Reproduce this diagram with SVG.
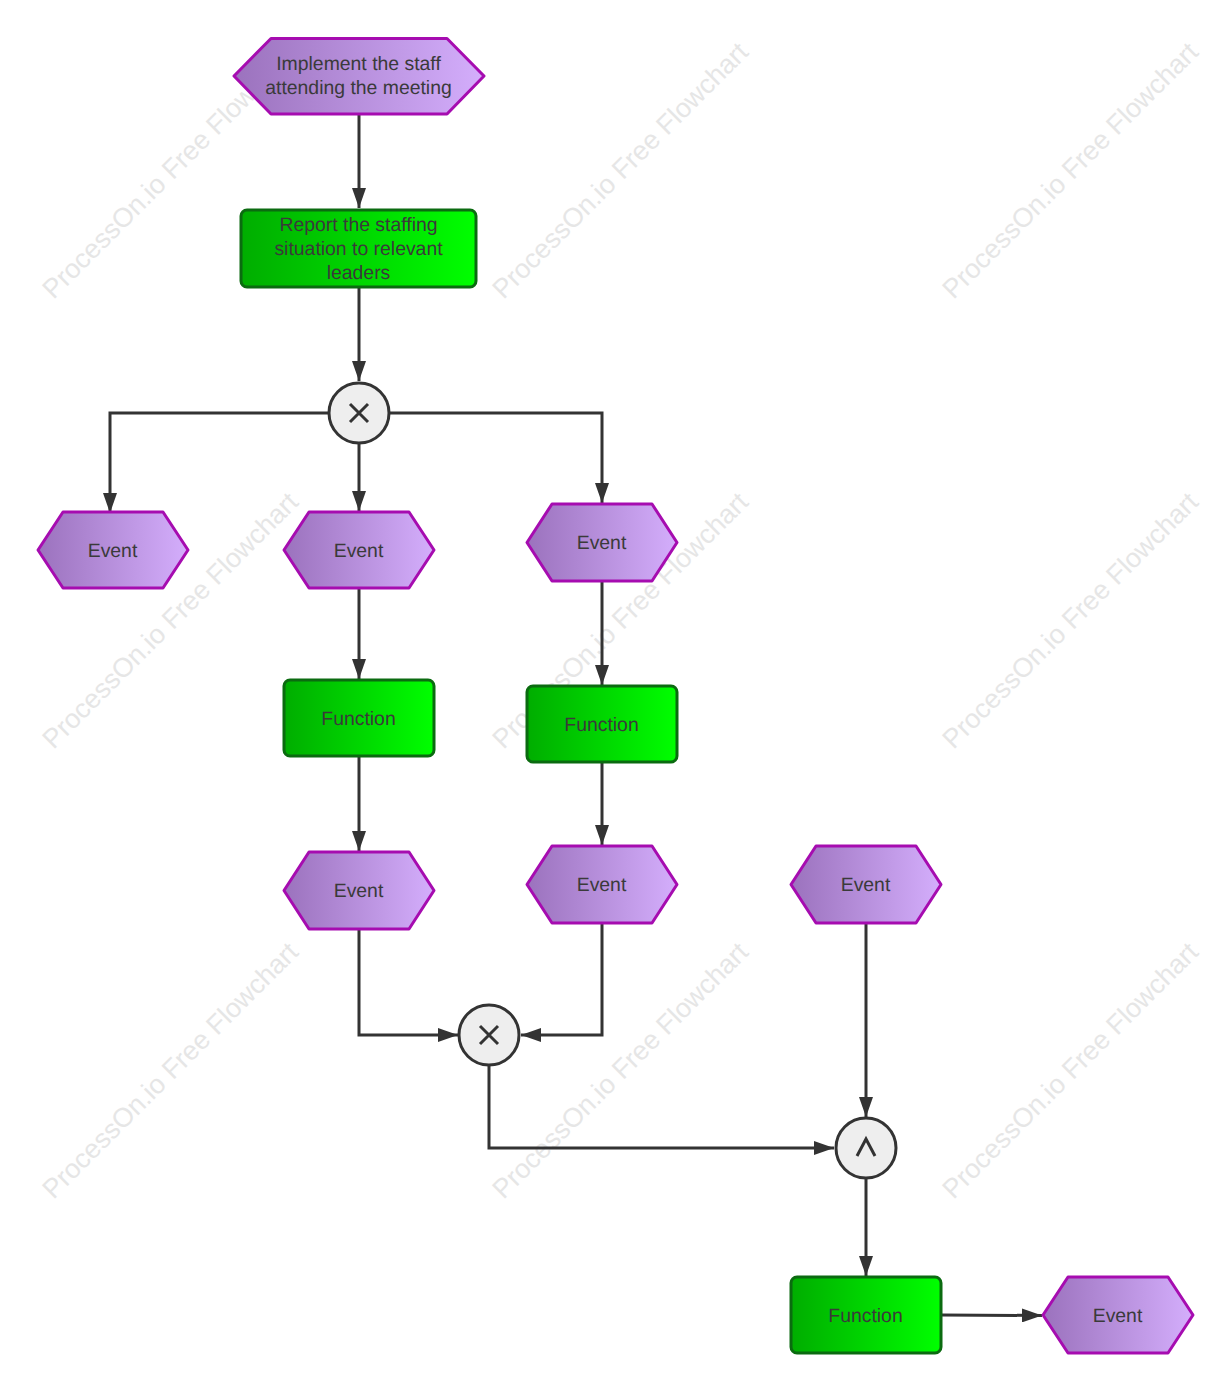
<svg xmlns="http://www.w3.org/2000/svg" width="1230" height="1390" viewBox="0 0 1230 1390">
<style>
text{font-family:"Liberation Sans",Arial,sans-serif;text-rendering:geometricPrecision}
.wm{font-size:26.900px;fill:#e6e6e6;text-anchor:start}
.t{font-size:19.400px;fill:#3a3a3a;text-anchor:middle}
.ev{fill:url(#gp);stroke:#a60cb0;stroke-width:3;stroke-linejoin:round}
.fn{fill:url(#gg);stroke:#0b6b10;stroke-width:3}
.gw{fill:#eeeeee;stroke:#333333;stroke-width:3}
.sym{fill:none;stroke:#333333;stroke-width:3}
.c{fill:none;stroke:#333333;stroke-width:3;marker-end:url(#a)}
</style>
<defs>
<linearGradient id="gp" x1="0" x2="1" y1="0" y2="0"><stop offset="0" stop-color="#9b72bd"/><stop offset="1" stop-color="#d4aefc"/></linearGradient>
<linearGradient id="gg" x1="0" x2="1" y1="0" y2="0"><stop offset="0" stop-color="#00ad00"/><stop offset="1" stop-color="#00ff00"/></linearGradient>
<marker id="a" markerUnits="userSpaceOnUse" markerWidth="20" markerHeight="14" refX="20" refY="7" viewBox="0 0 20 14" orient="auto"><path d="M0 0L20 7L0 14Z" fill="#333333"/></marker>
</defs>
<g id="watermarks">
<text class="wm" transform="translate(53.500 300) rotate(-45)">ProcessOn.io Free Flowchart</text>
<text class="wm" transform="translate(503.500 300) rotate(-45)">ProcessOn.io Free Flowchart</text>
<text class="wm" transform="translate(953.500 300) rotate(-45)">ProcessOn.io Free Flowchart</text>
<text class="wm" transform="translate(53.500 750) rotate(-45)">ProcessOn.io Free Flowchart</text>
<text class="wm" transform="translate(503.500 750) rotate(-45)">ProcessOn.io Free Flowchart</text>
<text class="wm" transform="translate(953.500 750) rotate(-45)">ProcessOn.io Free Flowchart</text>
<text class="wm" transform="translate(53.500 1200) rotate(-45)">ProcessOn.io Free Flowchart</text>
<text class="wm" transform="translate(503.500 1200) rotate(-45)">ProcessOn.io Free Flowchart</text>
<text class="wm" transform="translate(953.500 1200) rotate(-45)">ProcessOn.io Free Flowchart</text>
</g>
<g id="connectors">
<path class="c" d="M359 115V208"/>
<path class="c" d="M359 288V381"/>
<path class="c" d="M328 413H110V513"/>
<path class="c" d="M359 444V511"/>
<path class="c" d="M390 413H602V503"/>
<path class="c" d="M359 589V679"/>
<path class="c" d="M602 582V685"/>
<path class="c" d="M359 757V851"/>
<path class="c" d="M602 763V845"/>
<path class="c" d="M359 930V1035H458"/>
<path class="c" d="M602 924V1035H521"/>
<path class="c" d="M489 1066V1148H834"/>
<path class="c" d="M866 924V1117"/>
<path class="c" d="M866 1179V1276"/>
<path class="c" d="M942 1315L1042 1315.500"/>
</g>
<g id="n1"><path class="ev" d="M271 38.500H447L484 76L447 114H271L234 76Z"/><text class="t" x="358.500" y="70">Implement the staff</text><text class="t" x="358.500" y="94">attending the meeting</text></g>
<g id="n2"><rect class="fn" x="241" y="210" width="235" height="77" rx="6"/><text class="t" x="358.500" y="231">Report the staffing</text><text class="t" x="358.500" y="255">situation to relevant</text><text class="t" x="358.500" y="279">leaders</text></g>
<g id="g1"><circle class="gw" cx="359" cy="413" r="30"/><path class="sym" d="M350 404L368 422M368 404L350 422"/></g>
<g id="e1"><path class="ev" d="M63 512H163L188 550L163 588H63L38 550Z"/><text class="t" x="112.500" y="557">Event</text></g>
<g id="e2"><path class="ev" d="M309 512H409L434 550L409 588H309L284 550Z"/><text class="t" x="358.500" y="557">Event</text></g>
<g id="e3"><path class="ev" d="M552 504H652L677 542.500L652 581H552L527 542.500Z"/><text class="t" x="601.500" y="549">Event</text></g>
<g id="f1"><rect class="fn" x="284" y="680" width="150" height="76" rx="6"/><text class="t" x="358.500" y="725">Function</text></g>
<g id="f2"><rect class="fn" x="527" y="686" width="150" height="76" rx="6"/><text class="t" x="601.500" y="731">Function</text></g>
<g id="e4"><path class="ev" d="M309 852H409L434 890.500L409 929H309L284 890.500Z"/><text class="t" x="358.500" y="897">Event</text></g>
<g id="e5"><path class="ev" d="M552 846H652L677 884.500L652 923H552L527 884.500Z"/><text class="t" x="601.500" y="891">Event</text></g>
<g id="e6"><path class="ev" d="M816 846H916L941 884.500L916 923H816L791 884.500Z"/><text class="t" x="865.500" y="891">Event</text></g>
<g id="g2"><circle class="gw" cx="489" cy="1035" r="30"/><path class="sym" d="M480 1026L498 1044M498 1026L480 1044"/></g>
<g id="g3"><circle class="gw" cx="866" cy="1148" r="30"/><path class="sym" d="M857 1156L866 1139L875 1156"/></g>
<g id="f3"><rect class="fn" x="791" y="1277" width="150" height="76" rx="6"/><text class="t" x="865.500" y="1322">Function</text></g>
<g id="e7"><path class="ev" d="M1068 1277H1168L1193 1315L1168 1353H1068L1043 1315Z"/><text class="t" x="1117.500" y="1322">Event</text></g>
</svg>
